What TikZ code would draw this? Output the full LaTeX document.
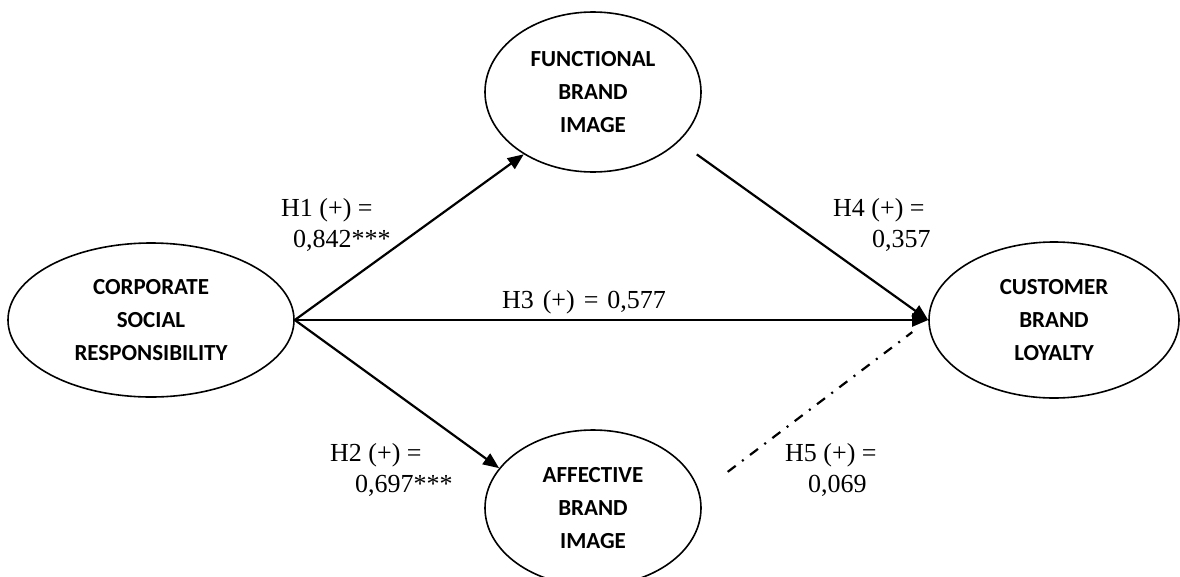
\documentclass[tikz,border=0pt]{standalone}
\usepackage{fontspec}
\setmainfont{Liberation Serif}
\newfontfamily\labfont{Carlito}
\usetikzlibrary{shapes.geometric,arrows.meta}
\begin{document}
\begin{tikzpicture}[x=1pt,y=-1pt,
  latent/.style n args={2}{ellipse, draw, line width=1.6pt, inner sep=0pt,
    minimum width=#1, minimum height=#2, align=center,
    font=\labfont\bfseries\fontsize{23}{33}\selectfont},
  arr/.style={-{Triangle[length=16pt,width=13pt]}, line width=2.2pt},
  dotdash/.style={line width=2.2pt, dash pattern=on 10pt off 8pt on 2pt off 8pt},
  lbl/.style={font=\fontsize{26}{31}\selectfont, align=left, inner sep=0pt, anchor=north west}]
\useasboundingbox (0,0) rectangle (1180,576);
\clip (0,0) rectangle (1180,576);
\node[latent={286pt}{154pt}] (csr) at (151,320) {CORPORATE\\SOCIAL\\RESPONSIBILITY};
\node[latent={216pt}{160pt}] (func) at (593,92) {FUNCTIONAL\\BRAND\\IMAGE};
\node[latent={216pt}{156pt}] (aff) at (593,508) {AFFECTIVE\\BRAND\\IMAGE};
\node[latent={250pt}{156pt}] (cust) at (1054,320) {CUSTOMER\\BRAND\\LOYALTY};
\draw[arr] (csr.east) -- (func.222);
\draw[arr] (csr.east) -- (aff.157);
\draw[arr] (csr.east) -- (cust.west);
\draw[arr, shorten <=22pt] (func.-30) -- (cust.west);
\draw[dotdash, shorten <=35pt, shorten >=20pt] (aff.8) -- (cust.west);
\node[lbl] (h1) at (281,198) {H1 (+) =\\\hspace*{12pt}0,842***};
\node[lbl] (h2) at (330,443) {H2 (+) =\\\hspace*{25pt}0,697***};
\node[lbl, anchor=center] (h3) at (584,302) {\spaceskip=9pt H3 (+) = 0,577};
\node[lbl] (h4) at (833,198) {H4 (+) =\\\hspace*{39pt}0,357};
\node[lbl] (h5) at (785,443) {H5 (+) =\\\hspace*{23pt}0,069};
\end{tikzpicture}
\end{document}
